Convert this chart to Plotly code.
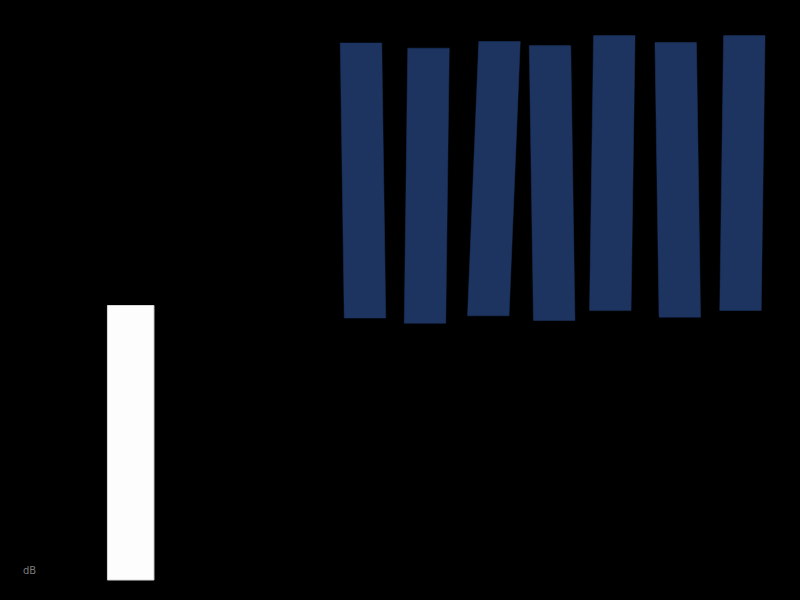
import plotly.graph_objects as go

# values (pixel-like units, y grows downward)
labels = ["1", "2", "3", "4", "5", "6", "7"]
x_top = [361.0, 428.5, 499.5, 550.0, 614.3, 675.7, 744.3]
x_bottom = [365.0, 425.0, 488.3, 554.2, 610.3, 679.8, 740.5]
tops = [43.0, 48.2, 41.5, 45.6, 35.6, 42.5, 35.6]
bottoms = [318.0, 323.3, 315.8, 320.5, 310.6, 317.2, 310.5]

white_label = "dB"
white_x = 130.7
white_top = 305.5
white_bottom = 580.0

BAR_W = 41.5
WHITE_W = 46.5
BLUE = "#1d3461"

fig = go.Figure()

for name, xt, xb, t, b in zip(labels, x_top, x_bottom, tops, bottoms):
    h = BAR_W / 2
    fig.add_trace(go.Scatter(
        x=[xt - h, xt + h, xb + h, xb - h, xt - h],
        y=[t, t, b, b, t],
        fill="toself", fillcolor=BLUE, mode="lines",
        line=dict(color=BLUE, width=0.5), name=name, hoverinfo="name"))

h = WHITE_W / 2
fig.add_trace(go.Scatter(
    x=[white_x - h, white_x + h, white_x + h, white_x - h, white_x - h],
    y=[white_top, white_top, white_bottom, white_bottom, white_top],
    fill="toself", fillcolor="#fdfdfd", mode="lines",
    line=dict(color="#d8d8d8", width=1), name=white_label, hoverinfo="name"))

fig.add_annotation(x=29, y=570, text=white_label, showarrow=False,
                   font=dict(family="DejaVu Sans", size=10, color="#7a7a7a"))

fig.update_layout(
    width=800, height=600,
    margin=dict(l=0, r=0, t=0, b=0),
    paper_bgcolor="black", plot_bgcolor="black",
    showlegend=False,
    xaxis=dict(range=[0, 800], visible=False, fixedrange=True),
    yaxis=dict(range=[600, 0], visible=False, fixedrange=True),
)

# drop the browser's default page margin so the figure sits at 0,0
fig.write_html("out.html", config={"displayModeBar": False},
               post_script="document.body.style.margin='0';"
                           "document.body.style.background='black';")
